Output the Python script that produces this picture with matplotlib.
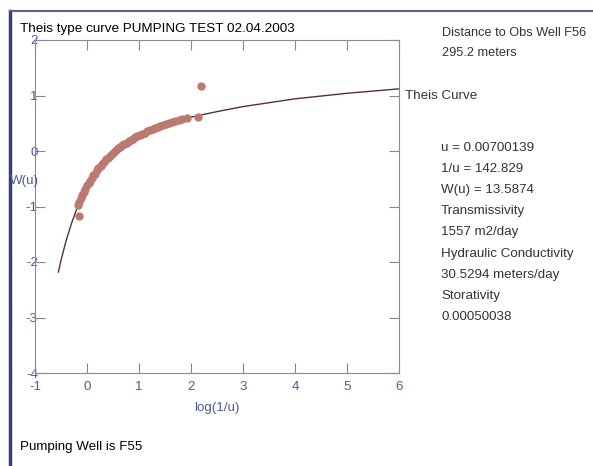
import matplotlib.pyplot as plt
from matplotlib.lines import Line2D

plt.rcParams['font.family'] = ['Liberation Sans', 'DejaVu Sans']
plt.rcParams['axes.unicode_minus'] = False

# Theis type curve: log(1/u) vs log W(u)
curve_x = [-0.55, -0.5, -0.4, -0.3, -0.2, -0.1, 0.0, 0.1, 0.2, 0.3, 0.4, 0.5, 0.6,
           0.7, 0.8, 0.9, 1.0, 1.1, 1.2, 1.3, 1.4, 1.5, 1.6, 1.7, 1.8, 1.9, 2.0,
           2.5, 3.0, 3.5, 4.0, 4.5, 5.0, 5.5, 6.0]
curve_y = [-2.18, -1.97, -1.61, -1.31, -1.05, -0.84, -0.66, -0.50, -0.37, -0.25,
           -0.15, -0.06, 0.02, 0.09, 0.15, 0.21, 0.26, 0.31, 0.35, 0.39, 0.43,
           0.46, 0.50, 0.53, 0.55, 0.58, 0.61, 0.71, 0.80, 0.87, 0.94, 0.99,
           1.04, 1.08, 1.12]

# observation points
obs_x = [-0.18, -0.15, -0.12, -0.09, -0.06, -0.03, 0.0, 0.03, 0.06, 0.09, 0.12,
         0.15, 0.19, 0.22, 0.26, 0.29, 0.33, 0.37, 0.40, 0.44, 0.48, 0.52, 0.56,
         0.60, 0.64, 0.68, 0.72, 0.76, 0.80, 0.84, 0.88, 0.93, 0.97, 1.02, 1.06,
         1.11, 1.16, 1.21, 1.26, 1.31, 1.36, 1.41, 1.46, 1.52, 1.58, 1.64, 1.70,
         1.76, 1.83, 1.93, 2.13, -0.16, 2.19]
obs_y = [-0.98, -0.92, -0.85, -0.79, -0.73, -0.69, -0.62, -0.58, -0.54, -0.48,
         -0.44, -0.41, -0.35, -0.31, -0.27, -0.23, -0.19, -0.15, -0.12, -0.09,
         -0.05, -0.02, 0.02, 0.05, 0.07, 0.10, 0.13, 0.15, 0.18, 0.20, 0.22,
         0.25, 0.27, 0.29, 0.31, 0.33, 0.36, 0.38, 0.40, 0.41, 0.43, 0.45, 0.47,
         0.49, 0.51, 0.52, 0.54, 0.56, 0.57, 0.59, 0.62, -1.18, 1.18]

info = ["Distance to Obs Well F56", "295.2 meters"]
results = ["u = 0.00700139", "1/u = 142.829", "W(u) = 13.5874", "Transmissivity",
           "1557 m2/day", "Hydraulic Conductivity", "30.5294 meters/day",
           "Storativity", "0.00050038"]

W, H = 593, 466
fig = plt.figure(figsize=(W / 100, H / 100), dpi=100)
ax = fig.add_axes([35 / W, 1 - 373 / H, 364 / W, 333 / H])

blue = '#4b5c9e'
txt = '#333333'
fs = 9.6
ax.plot(curve_x, curve_y, color='#5a2c44', lw=1.0, zorder=2)
ax.plot(obs_x, obs_y, 'o', color='#bb7a70', ms=6, mec='none', zorder=3)

ax.set_xlim(-1, 6)
ax.set_ylim(-4, 2)
ax.set_xticks(range(-1, 7))
ax.set_yticks(range(-4, 3))
ax.tick_params(direction='in', length=7, width=0.8, color='#888888',
               top=True, right=True, labelcolor=blue, labelsize=fs)
ax.tick_params(axis='x', pad=6)
ax.tick_params(axis='y', pad=-2)
for s in ax.spines.values():
    s.set_color('#8a8a96')
    s.set_linewidth(0.8)

ax.set_xlabel("log(1/u)", color=blue, fontsize=fs, labelpad=6)
fig.text(10 / W, 1 - 181 / H, "W(u)", color=blue, fontsize=fs, va='center')

fig.text(20 / W, 1 - 29 / H, "Theis type curve PUMPING TEST 02.04.2003",
         fontsize=9.7, va='center')
fig.text(405 / W, 1 - 96 / H, "Theis Curve", fontsize=fs, color=txt, va='center')

for i, t in enumerate(info):
    fig.text(442 / W, 1 - (33 + 20.5 * i) / H, t, fontsize=9.2, color=txt, va='center')
for i, t in enumerate(results):
    fig.text(441 / W, 1 - (148 + 21.1 * i) / H, t, fontsize=fs, color=txt, va='center')

fig.text(20 / W, 1 - 447 / H, "Pumping Well is F55", fontsize=fs, va='center')

# scanned window border
fig.add_artist(Line2D([10 / W, 10 / W], [0, 1 - 11 / H], color='#34407a', lw=2.5))
fig.add_artist(Line2D([10 / W, 1], [1 - 11 / H, 1 - 11 / H], color='#5a6288', lw=1.5))

fig.savefig("out.png", dpi=100)
